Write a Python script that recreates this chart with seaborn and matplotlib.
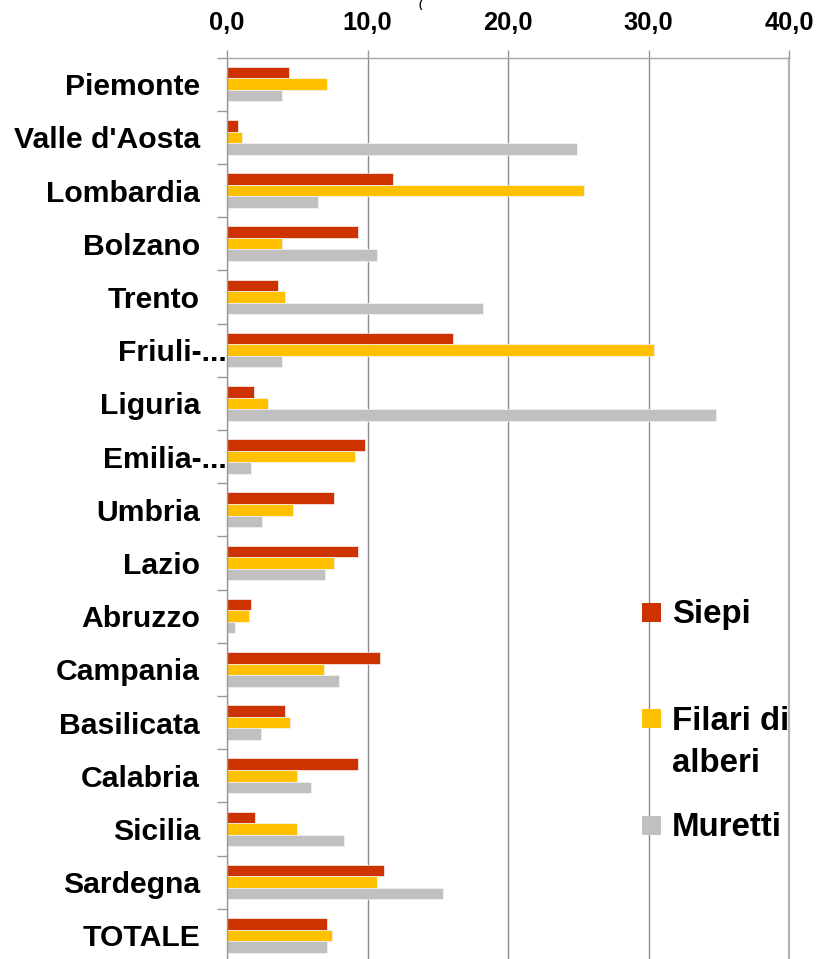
import matplotlib
matplotlib.use("Agg")
import matplotlib.pyplot as plt
import seaborn as sns
import pandas as pd
import numpy as np
from matplotlib.transforms import ScaledTranslation
from matplotlib.patches import Rectangle

# ---------------- data ----------------
regioni = ["Piemonte", "Valle d'Aosta", "Lombardia", "Bolzano", "Trento",
           "Friuli-...", "Liguria", "Emilia-...", "Umbria", "Lazio",
           "Abruzzo", "Campania", "Basilicata", "Calabria", "Sicilia",
           "Sardegna", "TOTALE"]
siepi = [4.4, 0.8, 11.8, 9.3, 3.6, 16.1, 1.9, 9.8, 7.6, 9.3,
         1.7, 10.9, 4.1, 9.3, 2.0, 11.2, 7.1]
filari = [7.1, 1.1, 25.4, 3.9, 4.1, 30.4, 2.9, 9.1, 4.7, 7.6,
          1.6, 6.9, 4.5, 5.0, 5.0, 10.7, 7.5]
muretti = [3.9, 24.9, 6.5, 10.7, 18.2, 3.9, 34.8, 1.7, 2.5, 7.0,
           0.6, 8.0, 2.4, 6.0, 8.3, 15.4, 7.1]
serie = ["Siepi", "Filari di alberi", "Muretti"]
legend_labels = ["Siepi", "Filari di\nalberi", "Muretti"]
colori = ["#CC3300", "#FFC000", "#C0C0C0"]
x_ticks = [0, 10, 20, 30, 40]
x_tick_labels = ["0,0", "10,0", "20,0", "30,0", "40,0"]

df = pd.DataFrame({
    "Regione": regioni * 3,
    "Serie": [serie[0]] * len(regioni) + [serie[1]] * len(regioni) + [serie[2]] * len(regioni),
    "Valore": siepi + filari + muretti,
})

# ---------------- style ----------------
sns.set_style("white")
plt.rcParams["font.family"] = ["Liberation Sans", "DejaVu Sans"]
plt.rcParams["text.color"] = "black"
plt.rcParams["xtick.labelcolor"] = "black"
plt.rcParams["ytick.labelcolor"] = "black"

W, H = 819, 959
fig = plt.figure(figsize=(W / 100, H / 100), dpi=100)
ax = fig.add_axes([227 / W, -3 / H, 562 / W, 904.5 / H])

sns.barplot(data=df, x="Valore", y="Regione", hue="Serie", orient="h",
            order=regioni, hue_order=serie, palette=colori, width=0.65,
            saturation=1, errorbar=None, legend=False,
            edgecolor="#f4f4f4", linewidth=0.5, ax=ax)

ax.set_xlim(0, 40)
ax.set_ylim(16.5, -0.5)
ax.set_xlabel("")
ax.set_ylabel("")

# x axis on top
ax.xaxis.tick_top()
ax.set_xticks(x_ticks)
ax.set_xticklabels(x_tick_labels, fontsize=18.4, fontweight="bold",
                   color="black")
ax.tick_params(axis="x", which="major", top=True, bottom=False, length=6,
               width=1, color="#999999", pad=10, direction="out",
               labelcolor="black")
ax.xaxis.grid(True, color="#8c8c8c", linewidth=1.0)
ax.yaxis.grid(False)
ax.set_axisbelow(True)

# y axis
ax.set_yticks(range(len(regioni)))
ax.set_yticklabels(regioni, fontsize=21.7, fontweight="bold", color="black")
ax.tick_params(axis="y", which="major", length=0, pad=19.5,
               labelcolor="black")
ax.set_yticks(np.arange(-0.5, len(regioni), 1.0), minor=True)
ax.tick_params(axis="y", which="minor", left=True, length=7, width=1,
               color="#999999", direction="out")

for lab in ax.get_yticklabels():
    if lab.get_text().endswith("..."):
        lab.set_transform(lab.get_transform() +
                          ScaledTranslation(0.27, 0, fig.dpi_scale_trans))

# spines
ax.spines["bottom"].set_visible(False)
ax.spines["top"].set_visible(True)
ax.spines["top"].set_color("#a6a6a6")
ax.spines["top"].set_linewidth(1.0)
ax.spines["left"].set_color("#999999")
ax.spines["left"].set_linewidth(1.0)
ax.spines["right"].set_visible(True)
ax.spines["right"].set_color("#b3b3b3")
ax.spines["right"].set_linewidth(1.6)

# legend (Excel-style, equal slots, handle beside first line)
slot_centers = [612, 718, 825]
for lab, col, cy in zip(legend_labels, colori, slot_centers):
    fig.patches.append(Rectangle((642 / W, 1 - (cy + 9.5) / H), 19 / W, 19 / H,
                                 transform=fig.transFigure, facecolor=col,
                                 edgecolor="none", figure=fig))
    n_extra = lab.count("\n")
    fig.text(672 / W, 1 - (cy + 11.5 + 42 * n_extra) / H, lab, fontsize=23.8,
             fontweight="bold", va="baseline", ha="left", linespacing=1.45,
             color="black")

# cut-off title fragment (kept small so it stays inside the picture)
fig.text(419 / W, 1 - 0.5 / H, "(", fontsize=7.5, fontweight="bold",
         va="top", ha="left", color="black")

fig.savefig("out.png", dpi=100)
